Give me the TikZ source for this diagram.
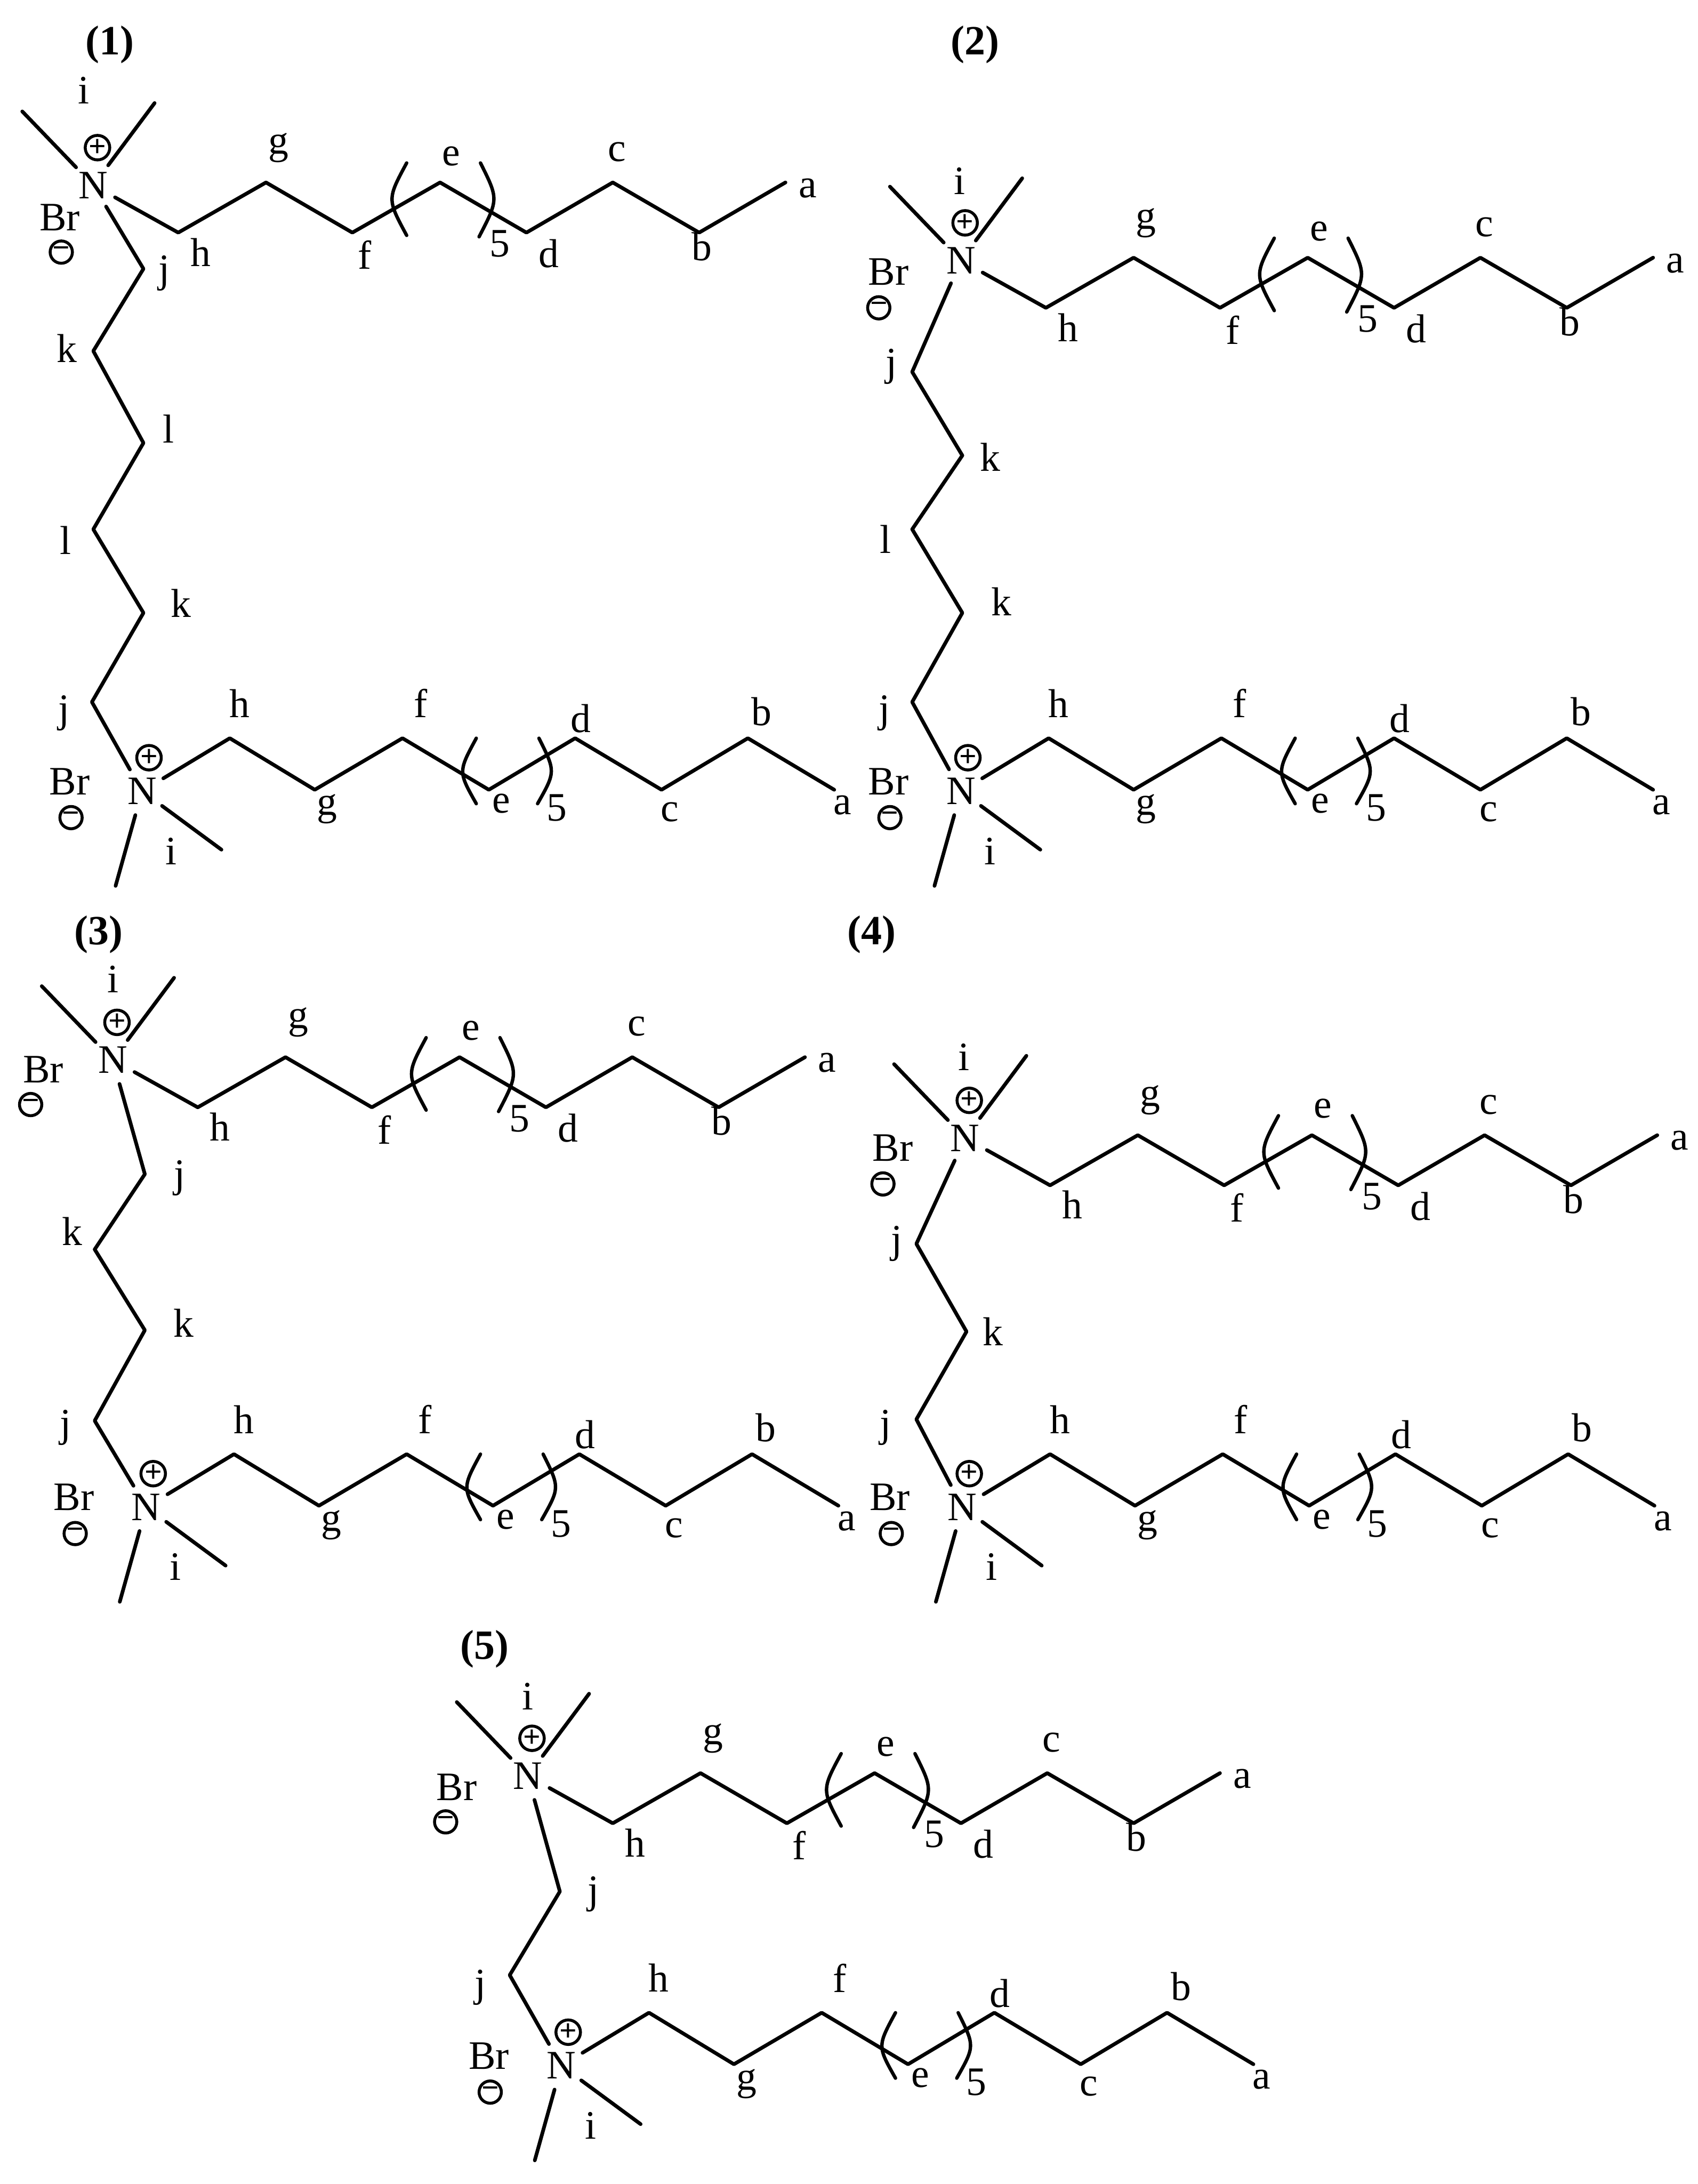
\documentclass[tikz,border=0pt]{standalone}
\usepackage{fontspec}
\setmainfont{Liberation Serif}
\tikzset{
	atom/.style={circle,inner sep=0pt,minimum size=0.7cm,font=\fontsize{16.5}{18}\selectfont},
	lab/.style={inner sep=0pt,font=\fontsize{16.5}{18}\selectfont},
	num/.style={inner sep=0pt,font=\fontsize{17}{18}\selectfont\bfseries},
	charge/.style={circle,draw,line width=1.2pt,inner sep=0pt,minimum size=0.32cm,font=\fontsize{12.5}{12}\selectfont\bfseries},
	bond/.style={line width=1.5pt},
	bracket/.style={line width=1.4pt},
}
\begin{document}
\begin{tikzpicture}[line join = round, line cap = round,x=0.02cm,y=-0.02cm]
	\useasboundingbox (0,0) rectangle (1219,1568);
	% upper chains
	\foreach \s/\nx/\ny/\bx/\by/\ox/\oy/\ix/\iy in {1/67/133/-24/23/-23/48/-7/-68,2/690/187/-52/8/-59/34/-1/-57,3/81/761/-50/7/-59/32/0/-58,4/693/817/-52/7/-59/33/-1/-58,5/379/1275/-51/8/-59/33/0/-57}{
	\begin{scope}[shift={(\nx,\ny)}]
	\node[atom] (N\s) at (0,0) {N};
	\path
	(-51,-53) coordinate(p\s)
	(44,-59) coordinate(q\s)
	(61,34) coordinate(h\s)
	(124,-2) coordinate(g\s)
	(186,34) coordinate(f\s)
	(249,-2) coordinate(e\s)
	(311,34) coordinate(d\s)
	(373,-2) coordinate(c\s)
	(435,34) coordinate(b\s)
	(497,-2) coordinate(a\s)
	;
	\draw[bond] (N\s)--(p\s) (N\s)--(q\s) (N\s)--(h\s)--(g\s)--(f\s)--(e\s)--(d\s)--(c\s)--(b\s)--(a\s);
	\draw[bracket] (225,-16) .. controls (211,10) .. (225,36) (278,-16) .. controls (291,10) .. (277,37);
	\foreach \t/\u/\v in {g/133/-27,h/77/48,f/195/50,e/257/-21,5/292/42,d/327/49,c/376/-24,b/437/44,a/513/2}\node[lab] (t\t\s) at (\u,\v) {\t};
	\node[lab] (ti\s) at (\ix,\iy) {i};
	\node[lab] (tbr\s) at (\bx,\by) {Br};
	\node[charge] (tp\s) at (3,-27) {+};
	\node[charge] (tm\s) at (\ox,\oy) {−};
	\end{scope}}
	% lower chains
	\foreach \s/\nx/\ny in {1/102/568,2/690/568,3/105/1082,4/691/1082,5/403/1483}{
	\begin{scope}[shift={(\nx,\ny)}]
	\node[atom] (M\s) at (0,0) {N};
	\path
	(57,42) coordinate(r\s)
	(-19,68) coordinate(w\s)
	(63,-38) coordinate(hh\s)
	(124,-1) coordinate(gg\s)
	(187,-38) coordinate(ff\s)
	(249,-1) coordinate(ee\s)
	(311,-38) coordinate(dd\s)
	(373,-1) coordinate(cc\s)
	(435,-38) coordinate(bb\s)
	(497,-1) coordinate(aa\s)
	;
	\draw[bond] (M\s)--(r\s) (M\s)--(w\s) (M\s)--(hh\s)--(gg\s)--(ff\s)--(ee\s)--(dd\s)--(cc\s)--(bb\s)--(aa\s);
	\draw[bracket] (240,-38) .. controls (227,-14) .. (240,9) (285,-38) .. controls (297,-14) .. (284,9);
	\foreach \t/\u/\v in {h/70/-63,g/133/13,f/200/-63,e/258/9,5/298/12,d/315/-52,c/379/15,b/445/-57,a/503/10,i/21/43}\node[lab] (b\t\s) at (\u,\v) {\t};
	\node[lab] (bbr\s) at (-52,-7) {Br};
	\node[charge] (bp\s) at (5,-24) {+};
	\node[charge] (bm\s) at (-51,19) {−};
	\end{scope}}
	% spacers
	\path
	(103,193) coordinate(A1) (67,252) coordinate(A2) (103,318) coordinate(A3)
	(67,380) coordinate(A4) (103,440) coordinate(A5) (66,504) coordinate(A6)
	(655,267) coordinate(B1) (691,327) coordinate(B2) (655,380) coordinate(B3)
	(691,440) coordinate(B4) (655,504) coordinate(B5)
	(104,843) coordinate(C1) (68,897) coordinate(C2) (104,955) coordinate(C3) (68,1020) coordinate(C4)
	(658,893) coordinate(D1) (694,956) coordinate(D2) (658,1019) coordinate(D3)
	(402,1358) coordinate(E1) (366,1418) coordinate(E2)
	;
	\draw[bond] (N1)--(A1)--(A2)--(A3)--(A4)--(A5)--(A6)--(M1);
	\draw[bond] (N2)--(B1)--(B2)--(B3)--(B4)--(B5)--(M2);
	\draw[bond] (N3)--(C1)--(C2)--(C3)--(C4)--(M3);
	\draw[bond] (N4)--(D1)--(D2)--(D3)--(M4);
	\draw[bond] (N5)--(E1)--(E2)--(M5);
	\foreach \t/\u/\v [count=\n] in {j/118/196,k/48/250,l/121/308,l/47/388,k/130/433,j/46/512,j/640/263,k/711/328,l/636/387,k/719/432,j/635/512,j/129/846,k/52/884,k/132/950,j/47/1025,j/644/893,k/713/956,j/636/1025,j/426/1360,j/345/1427}\node[lab] (s\n) at (\u,\v) {\t};
	% titles
	\foreach \n/\u/\v in {1/79/32,2/700/32,3/71/671,4/626/671,5/348/1184}\node[num] (title\n) at (\u,\v) {(\n)};
\end{tikzpicture}
\end{document}
